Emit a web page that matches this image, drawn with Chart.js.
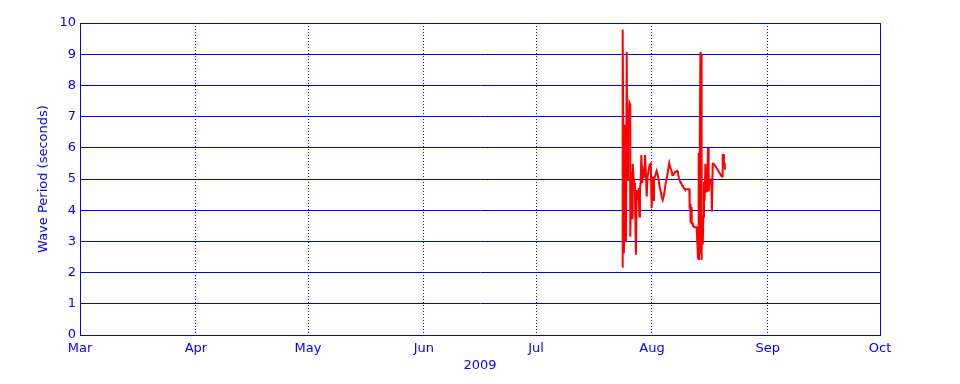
<!DOCTYPE html>
<html>
<head>
<meta charset="utf-8">
<script src="https://cdn.jsdelivr.net/npm/chart.js@4/dist/chart.umd.min.js"></script>
<style>
  html, body { margin: 0; padding: 0; background: #ffffff; }
  canvas { display: block; }
</style>
</head>
<body>
<canvas id="c" width="960" height="384"></canvas>
<script>
// ---- Data ----
const year = "2009";
const monthLabels = ["Mar", "Apr", "May", "Jun", "Jul", "Aug", "Sep", "Oct"];
const monthStarts = ["2009-03-01", "2009-04-01", "2009-05-01", "2009-06-01", "2009-07-01", "2009-08-01", "2009-09-01", "2009-10-01"];
const yTicks = [0, 1, 2, 3, 4, 5, 6, 7, 8, 9, 10];

const times = [
  "2009-07-24T00:00", "2009-07-24T02:00", "2009-07-24T06:00", "2009-07-24T12:00", "2009-07-24T17:00",
  "2009-07-24T21:00", "2009-07-25T01:00", "2009-07-25T06:00", "2009-07-25T10:00", "2009-07-25T14:00",
  "2009-07-25T18:00", "2009-07-25T23:00", "2009-07-26T03:00", "2009-07-26T05:00", "2009-07-26T12:00",
  "2009-07-26T16:00", "2009-07-26T20:00", "2009-07-27T03:00", "2009-07-27T07:00", "2009-07-27T11:00",
  "2009-07-27T17:00", "2009-07-27T22:00", "2009-07-28T04:00", "2009-07-28T11:00", "2009-07-28T15:00",
  "2009-07-28T19:00", "2009-07-28T23:00", "2009-07-29T04:00", "2009-07-29T10:00", "2009-07-29T17:00",
  "2009-07-29T23:00", "2009-07-30T03:00", "2009-07-30T10:00", "2009-07-30T14:00", "2009-07-30T20:00",
  "2009-07-31T03:00", "2009-07-31T09:00", "2009-07-31T16:00", "2009-07-31T22:00", "2009-08-01T05:00",
  "2009-08-01T09:00", "2009-08-01T13:00", "2009-08-01T22:00", "2009-08-02T06:00", "2009-08-02T13:00",
  "2009-08-02T19:00", "2009-08-03T01:00", "2009-08-03T08:00", "2009-08-03T14:00", "2009-08-03T21:00",
  "2009-08-04T03:00", "2009-08-04T10:00", "2009-08-04T16:00", "2009-08-04T22:00", "2009-08-05T05:00",
  "2009-08-05T11:00", "2009-08-05T15:00", "2009-08-05T22:00", "2009-08-06T04:00", "2009-08-06T11:00",
  "2009-08-06T17:00", "2009-08-07T00:00", "2009-08-07T08:00", "2009-08-07T17:00", "2009-08-07T23:00",
  "2009-08-08T06:00", "2009-08-08T12:00", "2009-08-08T18:00", "2009-08-09T01:00", "2009-08-09T07:00",
  "2009-08-09T14:00", "2009-08-09T20:00", "2009-08-10T11:00", "2009-08-11T00:00", "2009-08-11T02:00",
  "2009-08-11T06:00", "2009-08-11T08:00", "2009-08-11T13:00", "2009-08-11T15:00", "2009-08-11T21:00",
  "2009-08-11T23:00", "2009-08-12T02:00", "2009-08-12T10:00", "2009-08-12T23:00", "2009-08-13T03:00",
  "2009-08-13T08:00", "2009-08-13T12:00", "2009-08-13T14:00", "2009-08-13T18:00", "2009-08-13T23:00",
  "2009-08-14T01:00", "2009-08-14T03:00", "2009-08-14T05:00", "2009-08-14T09:00", "2009-08-14T14:00",
  "2009-08-14T18:00", "2009-08-14T22:00", "2009-08-15T02:00", "2009-08-15T07:00", "2009-08-15T11:00",
  "2009-08-15T15:00", "2009-08-15T19:00", "2009-08-16T00:00", "2009-08-16T04:00", "2009-08-16T08:00",
  "2009-08-16T15:00", "2009-08-16T21:00", "2009-08-17T01:00", "2009-08-17T06:00", "2009-08-17T12:00",
  "2009-08-17T19:00", "2009-08-18T01:00", "2009-08-18T07:00", "2009-08-18T14:00", "2009-08-18T20:00",
  "2009-08-19T03:00", "2009-08-19T09:00", "2009-08-19T16:00", "2009-08-19T20:00", "2009-08-19T22:00",
  "2009-08-20T04:00", "2009-08-20T06:00", "2009-08-20T11:00", "2009-08-20T13:00", "2009-08-20T19:00"
];

const wavePeriod = [
  2.19, 2.22, 9.79, 2.62, 6.74,
  4.33, 2.99, 9.07, 4.97, 6.90,
  6.80, 7.45, 7.40, 3.15, 5.24,
  3.74, 5.49, 5.00, 4.87, 4.44,
  2.57, 4.65, 4.33, 4.71, 3.80,
  4.71, 4.87, 5.77, 4.87, 5.24,
  5.08, 5.77, 5.08, 4.44, 5.08,
  5.30, 5.45, 5.49, 4.06, 5.08,
  4.33, 4.97, 5.13, 5.26, 5.13,
  4.97, 4.76, 4.60, 4.44, 4.33,
  4.44, 4.65, 4.87, 5.00, 5.20,
  5.40, 5.51, 5.35, 5.30, 5.13,
  5.13, 5.19, 5.24, 5.26, 5.19,
  5.00, 4.92, 4.87, 4.80, 4.76,
  4.71, 4.67, 4.67, 4.67, 4.04,
  4.20, 3.60, 4.10, 3.58, 3.58,
  3.50, 3.48, 3.45, 3.45, 2.99,
  2.46, 5.83, 2.40, 2.40, 9.07,
  2.60, 9.00, 2.40, 3.60, 2.90,
  3.80, 4.90, 4.30, 5.49, 4.60,
  5.30, 4.70, 5.99, 4.60, 4.87,
  4.92, 4.97, 3.96, 5.49, 5.49,
  5.44, 5.40, 5.35, 5.30, 5.24,
  5.19, 5.13, 5.08, 5.08, 5.77,
  5.77, 5.49, 5.49, 5.30, 5.30
];

// ---- helpers ----
const DAY = 86400000;
const origin = Date.parse(monthStarts[0] + "T00:00:00Z");
const toDays = s => (Date.parse((s.length <= 10 ? s + "T00:00" : s) + ":00Z") - origin) / DAY;
const monthPos = monthStarts.map(toDays);
const points = times.map((t, i) => ({ x: toDays(t), y: wavePeriod[i] }));

const BLUE = "#0000ff";
const RED = "#ff0000";
const FONT = { family: "DejaVu Sans", size: 13 };

const framePlugin = {
  id: "frame",
  beforeDatasetsDraw(chart) {
    const { ctx, chartArea: a } = chart;
    ctx.save();
    ctx.strokeStyle = BLUE;
    ctx.lineWidth = 1;
    ctx.strokeRect(Math.round(a.left) + 0.5, Math.round(a.top) + 0.5,
                   Math.round(a.right - a.left), Math.round(a.bottom - a.top));
    ctx.restore();
  }
};

new Chart(document.getElementById("c"), {
  type: "line",
  data: {
    datasets: [{
      data: points,
      borderColor: RED,
      borderWidth: 2,
      pointRadius: 0,
      tension: 0,
      fill: false
    }]
  },
  options: {
    responsive: false,
    animation: false,
    devicePixelRatio: 1,
    layout: { padding: { top: 23, right: 80, left: 0, bottom: 0 } },
    plugins: { legend: { display: false }, tooltip: { enabled: false } },
    scales: {
      x: {
        type: "linear",
        min: monthPos[0],
        max: monthPos[monthPos.length - 1],
        afterBuildTicks: s => { s.ticks = monthPos.map(v => ({ value: v })); },
        afterFit: s => { s.height = 49; },
        ticks: {
          color: BLUE,
          font: FONT,
          padding: 6,
          maxRotation: 0,
          autoSkip: false,
          callback: (v) => { const i = monthPos.indexOf(v); return i >= 0 ? monthLabels[i] : ""; }
        },
        grid: { color: BLUE, lineWidth: 1, drawTicks: false },
        border: { color: BLUE, dash: [1, 2] },
        title: { display: true, text: year, color: BLUE, font: FONT, padding: { top: 0, bottom: 11 } }
      },
      y: {
        min: 0,
        max: 10,
        afterBuildTicks: s => { s.ticks = yTicks.map(v => ({ value: v })); },
        afterFit: s => { s.width = 80; },
        ticks: { color: BLUE, font: FONT, padding: 4 },
        grid: { color: BLUE, lineWidth: 1, drawTicks: false },
        border: { color: BLUE },
        title: { display: true, text: "Wave Period (seconds)", color: BLUE, font: FONT, padding: { top: 36, bottom: 0 } }
      }
    }
  },
  plugins: [framePlugin]
});
</script>
</body>
</html>
